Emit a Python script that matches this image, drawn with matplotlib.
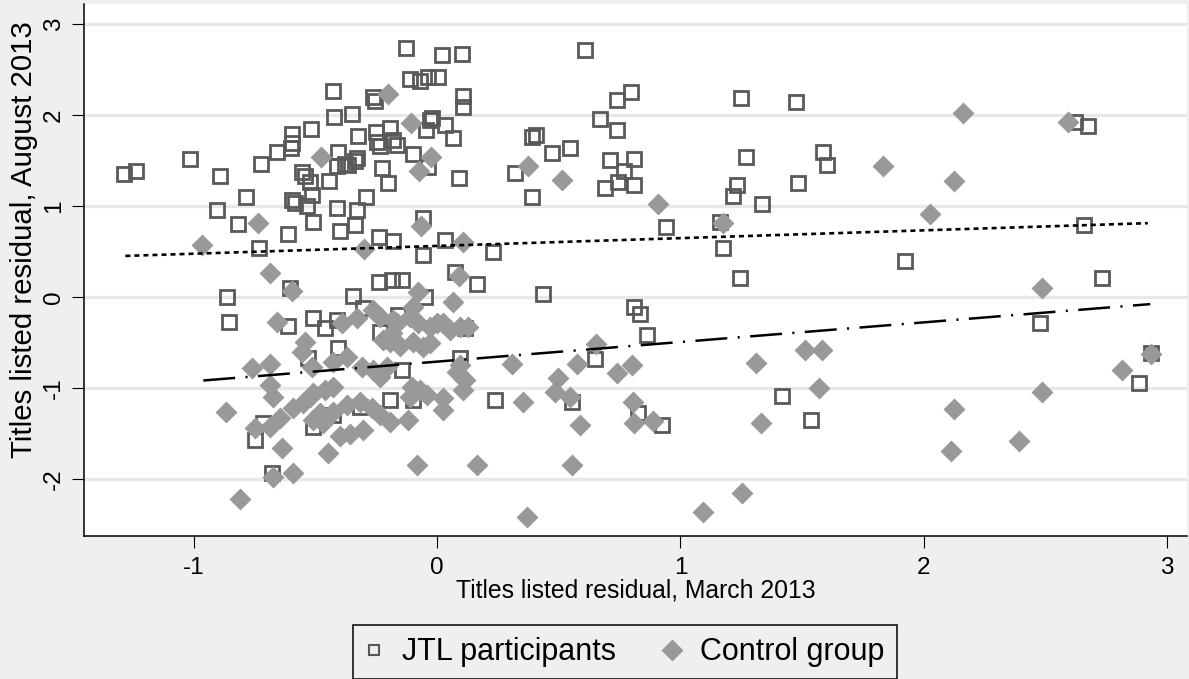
import matplotlib
matplotlib.use("Agg")
import matplotlib.pyplot as plt
from matplotlib.lines import Line2D
import numpy as np

plt.rcParams['font.family'] = ['Liberation Sans', 'DejaVu Sans']
plt.rcParams['lines.scale_dashes'] = False

# JTL participants (hollow squares)
jtl_x = [-1.286, -1.237, -1.015, -0.891, -0.904, -0.785, -0.818, -0.731, -0.723, -0.657,
         -0.612, -0.596, -0.596, -0.600, -0.518, -0.555, -0.542, -0.522, -0.514, -0.596,
         -0.583, -0.534, -0.509, -0.427, -0.423, -0.349, -0.325, -0.407, -0.329, -0.444,
         -0.411, -0.378, -0.366, -0.337, -0.411, -0.329, -0.292, -0.398, -0.337, -0.238,
         -0.181, -0.263, -0.255, -0.251, -0.246, -0.234, -0.226, -0.201, -0.193, -0.181,
         -0.238, -0.185, -0.345, -0.863, -0.127, 0.021, 0.103, -0.111, -0.070, -0.037,
         0.004, 0.107, 0.107, -0.029, -0.021, 0.033, 0.066, -0.045, -0.164, -0.099,
         -0.037, 0.090, -0.058, 0.033, -0.058, 0.230, -0.144, 0.074, 0.164, 0.435,
         0.608, 0.739, 0.797, 0.670, 0.739, 0.390, 0.407, 0.472, 0.546, 0.320,
         0.390, 0.711, 0.809, 0.768, 0.744, 0.690, 0.809, 0.941, 1.163, 1.175,
         1.249, 1.269, 1.232, 1.216, 1.335, 1.245, 1.475, 1.586, 1.602, 1.483,
         2.621, 2.675, 1.923, 2.658, 2.732, -0.855, -0.604, -0.612, -0.509, -0.460,
         -0.411, -0.304, -0.049, -0.160, -0.234, -0.407, -0.530, -0.144, 0.094, 0.115,
         0.238, -0.193, -0.099, -0.316, -0.427, -0.509, -0.748, -0.715, -0.678, 0.809,
         0.834, 0.863, 0.649, 0.555, 0.826, 0.924, 1.417, 1.537, 2.477, 2.884, 2.933]
jtl_y = [1.350, 1.383, 1.515, 1.328, 0.954, 1.097, 0.800, 0.536, 1.460, 1.592,
         0.690, 1.790, 1.691, 1.636, 1.845, 1.372, 1.328, 1.262, 1.119, 1.064,
         1.031, 0.998, 0.822, 2.263, 1.977, 2.010, 1.768, 1.592, 1.526, 1.273,
         1.438, 1.460, 1.449, 1.493, 0.976, 0.954, 1.097, 0.723, 0.789, 0.657,
         0.613, 2.197, 2.153, 1.812, 1.702, 1.658, 1.416, 1.251, 1.856, 1.724,
         0.162, 0.184, 0.008, -0.003, 2.736, 2.659, 2.670, 2.395, 2.373, 2.417,
         2.417, 2.208, 2.087, 1.944, 1.966, 1.889, 1.746, 1.834, 1.669, 1.570,
         1.427, 1.306, 0.866, 0.624, 0.459, 0.492, 0.184, 0.272, 0.140, 0.030,
         2.714, 2.164, 2.252, 1.955, 1.834, 1.757, 1.779, 1.581, 1.636, 1.361,
         1.097, 1.504, 1.515, 1.383, 1.262, 1.196, 1.229, 0.767, 0.822, 0.536,
         2.186, 1.537, 1.229, 1.108, 1.020, 0.206, 2.142, 1.592, 1.449, 1.251,
         1.922, 1.878, 0.393, 0.789, 0.206, -0.278, 0.096, -0.322, -0.234, -0.344,
         -0.256, -0.124, -0.003, -0.201, -0.388, -0.564, -0.674, -0.806, -0.674, -0.344,
         -1.136, -1.136, -1.136, -1.213, -1.301, -1.433, -1.576, -1.389, -1.939, -0.113,
         -0.190, -0.421, -0.685, -1.158, -1.279, -1.411, -1.092, -1.356, -0.289, -0.949, -0.619]

# Control group (filled diamonds)
ctl_x = [-0.965, -0.735, -0.477, -0.201, -0.686, -0.596, -0.300, -0.107, -0.025, -0.074,
         0.374, 0.514, 0.908, 1.175, -0.066, 0.107, 0.090, -0.078, 0.066, 2.161,
         2.592, 1.832, 2.124, 2.025, 2.486, 1.512, 1.582, 1.569, 2.124, 2.112,
         2.391, 2.486, 2.814, 2.933, 0.308, 0.353, 0.575, 0.653, 0.497, 0.485,
         0.546, 0.588, 0.555, 0.370, -0.082, 0.164, 0.739, 0.801, 0.805, 0.809,
         0.887, 1.311, 1.331, 1.093, 1.253, -0.657, -0.867, -0.809, -0.760, -0.686,
         -0.686, -0.674, -0.748, -0.686, -0.645, -0.592, -0.551, -0.637, -0.674, -0.592,
         -0.542, -0.555, -0.514, -0.509, -0.460, -0.427, -0.522, -0.509, -0.468, -0.481,
         -0.427, -0.448, -0.398, -0.357, -0.304, -0.370, -0.316, -0.267, -0.234, -0.193,
         -0.119, -0.111, -0.041, 0.025, 0.025, 0.107, -0.390, -0.329, -0.263, -0.427,
         -0.370, -0.308, -0.263, -0.234, -0.205, -0.164, -0.111, -0.099, -0.222, -0.185,
         -0.193, -0.152, -0.099, -0.058, -0.029, 0.000, 0.053, 0.094, 0.127, 0.094,
         0.082, 0.115, -0.103, -0.070, -0.234, -0.181, -0.078, -0.029, 0.025]
ctl_y = [0.569, 0.811, 1.537, 2.230, 0.261, 0.063, 0.525, 1.911, 1.537, 1.383,
         1.438, 1.284, 1.020, 0.811, 0.778, 0.602, 0.228, 0.052, -0.058, 2.021,
         1.922, 1.438, 1.273, 0.910, 0.096, -0.586, -0.586, -1.004, -1.235, -1.697,
         -1.587, -1.048, -0.806, -0.630, -0.740, -1.158, -0.740, -0.520, -0.894, -1.048,
         -1.103, -1.411, -1.851, -2.424, -1.851, -1.851, -0.839, -0.751, -1.158, -1.389,
         -1.367, -0.729, -1.389, -2.368, -2.159, -0.278, -1.268, -2.225, -0.784, -0.740,
         -0.971, -1.103, -1.444, -1.433, -1.334, -1.224, -1.169, -1.664, -1.983, -1.939,
         -0.498, -0.608, -0.773, -1.059, -1.026, -0.993, -1.103, -1.356, -1.389, -1.279,
         -1.268, -1.719, -1.532, -1.510, -1.466, -1.191, -1.158, -1.224, -1.301, -1.378,
         -1.356, -1.103, -1.081, -1.114, -1.246, -1.026, -0.289, -0.234, -0.146, -0.718,
         -0.663, -0.773, -0.806, -0.883, -0.773, -0.289, -0.223, -0.113, -0.476, -0.399,
         -0.498, -0.542, -0.498, -0.553, -0.509, -0.289, -0.366, -0.333, -0.333, -0.751,
         -0.828, -0.916, -0.993, -1.026, -0.223, -0.256, -0.289, -0.333, -0.289]

# Fitted lines (endpoints)
jtl_fit_x = [-1.28, 2.92]
jtl_fit_y = [0.45, 0.81]
ctl_fit_x = [-0.96, 2.93]
ctl_fit_y = [-0.92, -0.08]

x_ticks = [-1, 0, 1, 2, 3]
y_ticks = [-2, -1, 0, 1, 2, 3]
x_label = "Titles listed residual, March 2013"
y_label = "Titles listed residual, August 2013"
legend_labels = ["JTL participants", "Control group"]

W, H = 1189, 679
fig = plt.figure(figsize=(W / 100, H / 100), dpi=100, facecolor='#efefef')
ax = fig.add_axes([84 / W, 1 - 536 / H, (1187 - 84) / W, (536 - 4) / H])
ax.set_facecolor('white')

sq_col = '#595959'
dm_col = '#999999'

for yt in y_ticks:
    ax.axhline(yt, color='#e8e8e8', lw=2.4, zorder=0)

ax.plot(jtl_x, jtl_y, ls='none', marker='s', ms=10, mfc='none', mec=sq_col, mew=2.0, zorder=2)
ax.plot(ctl_x, ctl_y, ls='none', marker='D', ms=10.7, mfc=dm_col, mec='none', zorder=3)
ax.plot(jtl_fit_x, jtl_fit_y, color='black', lw=1.9, ls=(0, (3.6, 2.9)), zorder=4)
ax.plot(ctl_fit_x, ctl_fit_y, color='black', lw=1.8, ls=(0, (23, 7.5, 1.5, 7.5)), zorder=4)

ax.set_xlim(-1.45, 3.081)
ax.set_ylim(-2.63, 3.22)
ax.set_xticks(x_ticks)
ax.set_yticks(y_ticks)
ax.set_xticklabels([str(v) for v in x_ticks])
ax.set_yticklabels([str(v) for v in y_ticks], rotation=90, va='center')

for s in ['top', 'right']:
    ax.spines[s].set_visible(False)
for s in ['left', 'bottom']:
    ax.spines[s].set_linewidth(1.1)
    ax.spines[s].set_color('black')

ax.tick_params(axis='both', length=8.6, width=0.8, labelsize=17.5, color='black')
ax.tick_params(axis='y', pad=5)
ax.tick_params(axis='x', pad=6.5)

ax.set_xlabel(x_label, fontsize=17.8, labelpad=0)
ax.set_ylabel(y_label, fontsize=21.2)
ax.yaxis.set_label_coords((38 - 84) / 1103, (536 - 240) / 532)

handles = [
    Line2D([], [], ls='none', marker='s', ms=7.5, mfc='none', mec=sq_col, mew=1.5),
    Line2D([], [], ls='none', marker='D', ms=11.5, mfc=dm_col, mec='none'),
]
leg = fig.legend(handles, legend_labels, loc='upper left',
                 bbox_to_anchor=(353 / W, 1 - 625 / H), borderaxespad=0,
                 ncol=2, fontsize=22, frameon=True, fancybox=False,
                 edgecolor='black', facecolor='#efefef', framealpha=1,
                 handlelength=0.6, handletextpad=0.6, columnspacing=1.55,
                 borderpad=0.4)
leg.get_frame().set_linewidth(1.1)

fig.savefig('out.png', dpi=100, facecolor=fig.get_facecolor())
